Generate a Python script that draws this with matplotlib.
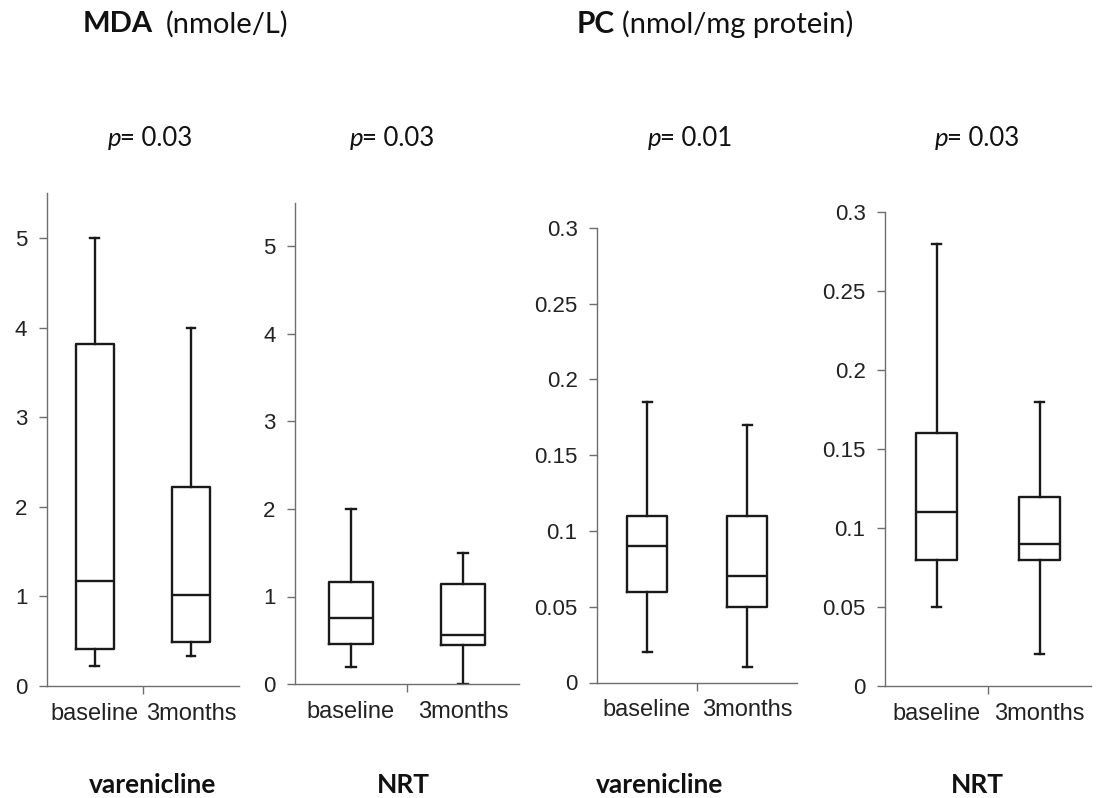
import matplotlib
matplotlib.use('Agg')
import matplotlib.pyplot as plt

W, H = 1107, 798

groups = ['baseline', '3months']
# MDA (nmole/L) - varenicline
mda_var_whislo = [0.22, 0.33]
mda_var_q1 = [0.41, 0.49]
mda_var_med = [1.17, 1.02]
mda_var_q3 = [3.82, 2.22]
mda_var_whishi = [5.0, 4.0]
# MDA - NRT
mda_nrt_whislo = [0.20, 0.0]
mda_nrt_q1 = [0.46, 0.45]
mda_nrt_med = [0.76, 0.56]
mda_nrt_q3 = [1.17, 1.14]
mda_nrt_whishi = [2.0, 1.5]
# PC (nmol/mg protein) - varenicline
pc_var_whislo = [0.02, 0.01]
pc_var_q1 = [0.06, 0.05]
pc_var_med = [0.09, 0.07]
pc_var_q3 = [0.11, 0.11]
pc_var_whishi = [0.185, 0.17]
# PC - NRT
pc_nrt_whislo = [0.05, 0.02]
pc_nrt_q1 = [0.08, 0.08]
pc_nrt_med = [0.11, 0.09]
pc_nrt_q3 = [0.16, 0.12]
pc_nrt_whishi = [0.28, 0.18]

p_values = ['0.03', '0.03', '0.01', '0.03']
group_names = ['varenicline', 'NRT', 'varenicline', 'NRT']
mda_ticks = [0, 1, 2, 3, 4, 5]
mda_ticklabels = ['0', '1', '2', '3', '4', '5']
pc_ticks = [0, 0.05, 0.1, 0.15, 0.2, 0.25, 0.3]
pc_ticklabels = ['0', '0.05', '0.1', '0.15', '0.2', '0.25', '0.3']

panels = [
    (mda_var_whislo, mda_var_q1, mda_var_med, mda_var_q3, mda_var_whishi),
    (mda_nrt_whislo, mda_nrt_q1, mda_nrt_med, mda_nrt_q3, mda_nrt_whishi),
    (pc_var_whislo, pc_var_q1, pc_var_med, pc_var_q3, pc_var_whishi),
    (pc_nrt_whislo, pc_nrt_q1, pc_nrt_med, pc_nrt_q3, pc_nrt_whishi),
]
# pixel rects: left, right, bottom, top
rects = [(46.7, 239, 686, 193.2), (295, 519, 684, 202.75),
         (597, 797, 682.5, 227.7), (885, 1091, 686, 212.3)]
ylims = [(0, 5.5), (0, 5.5), (0, 0.3), (0, 0.3)]
yticks = [(mda_ticks, mda_ticklabels), (mda_ticks, mda_ticklabels),
          (pc_ticks, pc_ticklabels), (pc_ticks, pc_ticklabels)]
p_left = [108, 350, 648, 935]
name_x = [153, 403, 660, 977]

fig = plt.figure(figsize=(W / 100, H / 100), dpi=100)
spine_col = '#6e6e6e'
tick_font = 'Liberation Sans'
title_font = 'Lato'
txt_col = '#111111'

for i, (stats_arr, rect) in enumerate(zip(panels, rects)):
    l, r, b, t = rect
    ax = fig.add_axes([l / W, 1 - b / H, (r - l) / W, (b - t) / H])
    lo, q1, med, q3, hi = stats_arr
    stats = [dict(whislo=lo[k], q1=q1[k], med=med[k], q3=q3[k], whishi=hi[k],
                  fliers=[], label=groups[k]) for k in range(len(groups))]
    lw = 1.7
    ax.bxp(stats, positions=[1, 2], widths=0.4, showfliers=False,
           boxprops=dict(color='#1a1a1a', linewidth=lw),
           medianprops=dict(color='#1a1a1a', linewidth=lw),
           whiskerprops=dict(color='#1a1a1a', linewidth=lw),
           capprops=dict(color='#1a1a1a', linewidth=lw),
           capwidths=0.09)
    ax.set_xlim(0.5, 2.5)
    ax.set_ylim(*ylims[i])
    for s in ['top', 'right']:
        ax.spines[s].set_visible(False)
    for s in ['left', 'bottom']:
        ax.spines[s].set_color(spine_col)
        ax.spines[s].set_linewidth(1.0)
    tk, tl = yticks[i]
    ax.set_yticks(tk)
    ax.set_yticklabels(tl, fontfamily=tick_font, fontsize=16, color='#222222')
    ax.tick_params(axis='y', direction='out', length=6, width=1, color=spine_col, pad=8)
    ax.set_xticks([1, 2])
    ax.set_xticklabels(groups, fontfamily=tick_font, fontsize=17, color='#222222')
    ax.tick_params(axis='x', which='major', length=0, pad=12)
    ax.set_xticks([1.5], minor=True)
    ax.tick_params(axis='x', which='minor', direction='out', length=6, width=1, color=spine_col)
    ax.patch.set_alpha(0)

    # p-value text: italic p followed by upright text
    fig.text(p_left[i] / W, 1 - 138 / H, 'p', fontstyle='italic', fontfamily=title_font,
             fontsize=18.5, ha='left', va='center', color=txt_col)
    fig.text((p_left[i] + 12) / W, 1 - 138 / H, '= ' + p_values[i], fontfamily=title_font,
             fontsize=18.5, ha='left', va='center', color=txt_col)
    fig.text(name_x[i] / W, 1 - 785 / H, group_names[i], fontfamily=title_font,
             fontweight='bold', fontsize=19, ha='center', va='center', color=txt_col)

# titles
fig.text(83 / W, 1 - 24 / H, 'MDA', fontfamily=title_font, fontweight='bold',
         fontsize=21, ha='left', va='center', color=txt_col)
fig.text(166 / W, 1 - 24 / H, '(nmole/L)', fontfamily=title_font,
         fontsize=21, ha='left', va='center', color=txt_col)
fig.text(577 / W, 1 - 24 / H, 'PC', fontfamily=title_font, fontweight='bold',
         fontsize=21.5, ha='left', va='center', color=txt_col)
fig.text(622 / W, 1 - 24 / H, '(nmol/mg protein)', fontfamily=title_font,
         fontsize=21, ha='left', va='center', color=txt_col)

fig.savefig('out.png', dpi=100)
